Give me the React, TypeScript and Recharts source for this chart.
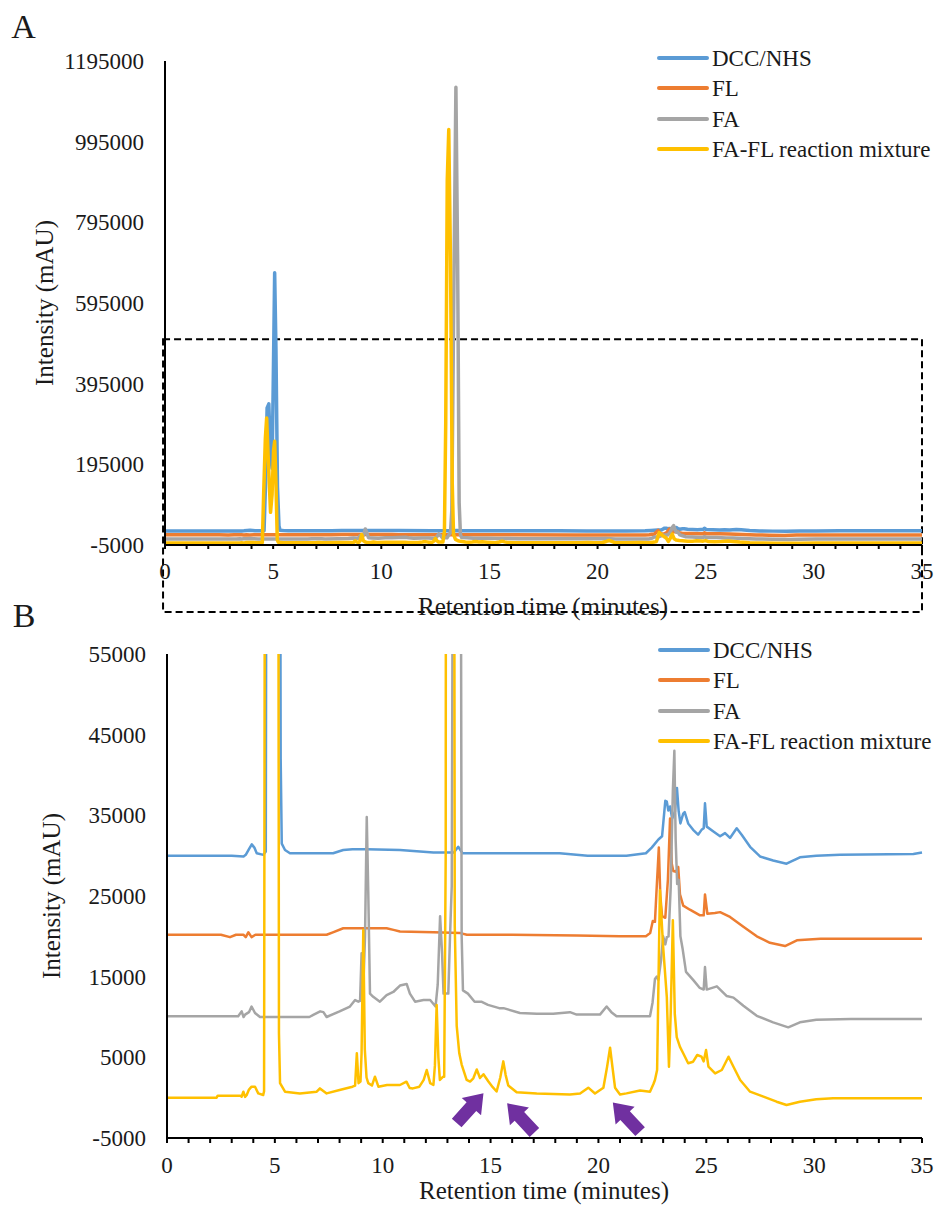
import React from 'react';
import { LineChart, Line, XAxis, YAxis, ReferenceArea, ReferenceDot } from 'recharts';

const FONT = "'Liberation Serif', 'Times New Roman', Tinos, 'DejaVu Serif', serif";

const seriesNames = ['DCC/NHS', 'FL', 'FA', 'FA-FL reaction mixture'];
const seriesColors = ['#5B9BD5', '#ED7D31', '#A5A5A5', '#FFC000'];

// retention time (min), intensity (mAU)
const dccNhs: [number, number][] = [
  [0, 30000], [1.5, 30000], [3.0, 30000], [3.55, 29900], [3.65, 30100], [3.8, 30800], [3.93, 31400],
  [4.05, 31000], [4.16, 30300], [4.47, 30100], [4.58, 30500], [4.65, 150000], [4.72, 335000],
  [4.8, 345000], [4.87, 230000], [4.95, 185000], [5.0, 380000], [5.07, 670000], [5.13, 480000],
  [5.2, 140000], [5.27, 42000], [5.32, 31500], [5.47, 30700], [5.7, 30300], [7.7, 30300],
  [8.17, 30700], [8.6, 30800], [9.26, 30800], [10.8, 30700], [12.35, 30400], [13.3, 30400],
  [13.5, 31100], [13.7, 30300], [15.4, 30300], [18.2, 30300], [19.5, 30000], [21.3, 30000],
  [22.2, 30300], [22.47, 31000], [22.78, 32000], [22.95, 32400], [23.1, 36800], [23.17, 36700],
  [23.24, 35600], [23.32, 36100], [23.42, 34600], [23.55, 35500], [23.64, 38400], [23.72, 35500],
  [23.8, 34000], [23.93, 35200], [24.0, 35400], [24.16, 34000], [24.39, 33200], [24.62, 32600],
  [24.78, 33200], [24.88, 33400], [24.94, 36500], [25.02, 33600], [25.33, 33000], [25.64, 32400],
  [25.87, 32800], [26.1, 32200], [26.41, 33400], [26.64, 32600], [27.03, 31100], [27.49, 29900],
  [28.1, 29400], [28.72, 29000], [29.34, 29800], [30.1, 30000], [31.2, 30100], [34.6, 30200],
  [35, 30400],
];

const fl: [number, number][] = [
  [0, 20200], [2.5, 20200], [2.92, 19900], [3.2, 20200], [3.54, 20200], [3.65, 19900], [3.77, 20500],
  [3.92, 19900], [4.1, 20200], [7.4, 20200], [7.69, 20500], [8.17, 21000], [8.95, 21000],
  [9.56, 21000], [10.18, 21000], [10.5, 20800], [10.8, 20600], [12.35, 20500], [13.6, 20400],
  [13.9, 20200], [16, 20200], [19, 20100], [21, 20000], [22.2, 20000], [22.4, 20400],
  [22.52, 21900], [22.62, 21800], [22.7, 26000], [22.8, 31000], [22.87, 25000], [22.95, 22500],
  [23.1, 22300], [23.22, 27000], [23.32, 34600], [23.4, 29000], [23.47, 28100], [23.6, 28000],
  [23.7, 28600], [23.78, 25200], [23.93, 23800], [24.24, 23300], [24.71, 22600], [24.88, 22600],
  [24.94, 25200], [25.05, 22800], [25.4, 22900], [25.64, 23000], [26.1, 22400], [26.72, 21200],
  [27.34, 20000], [27.95, 19200], [28.65, 18800], [29.2, 19500], [30.3, 19700], [35, 19700],
];

const fa: [number, number][] = [
  [0, 10100], [2.5, 10100], [3.3, 10100], [3.46, 10700], [3.55, 10000], [3.62, 10300], [3.8, 10600],
  [3.92, 11300], [4.08, 10500], [4.31, 10000], [6.6, 10000], [6.78, 10250], [7.1, 10700],
  [7.25, 10600], [7.4, 10000], [8.0, 10700], [8.48, 11300], [8.72, 12100], [8.87, 11900],
  [8.95, 12000], [9.02, 17900], [9.08, 12200], [9.18, 20000], [9.26, 34800], [9.33, 25500],
  [9.41, 12900], [9.56, 12500], [9.87, 11900], [10.18, 12700], [10.49, 13100], [10.8, 13900],
  [11.11, 14100], [11.26, 12900], [11.5, 11900], [11.89, 12100], [12.2, 12100], [12.45, 11300],
  [12.55, 14000], [12.66, 22500], [12.75, 18000], [12.82, 12900], [13.04, 12900], [13.12, 20000],
  [13.2, 26200], [13.26, 80000], [13.35, 600000], [13.45, 1130000], [13.53, 700000], [13.6, 100000],
  [13.66, 20000], [13.72, 13300], [13.95, 12900], [14.26, 11900], [14.57, 11900], [14.88, 11500],
  [15.4, 11100], [15.6, 11100], [16.36, 10500], [17.14, 10400], [17.9, 10400], [18.68, 10600],
  [18.99, 10300], [20.07, 10300], [20.38, 11300], [20.6, 10600], [20.84, 10100], [22.39, 10100],
  [22.51, 11800], [22.62, 14700], [22.7, 15000], [22.78, 14600], [22.9, 17000], [23.0, 20000],
  [23.1, 19000], [23.17, 19900], [23.25, 20000], [23.35, 26000], [23.45, 38000], [23.52, 43000],
  [23.58, 32000], [23.65, 26500], [23.72, 27000], [23.8, 20000], [23.9, 18500], [24.06, 15600],
  [24.39, 14600], [24.7, 13600], [24.88, 13400], [24.94, 16200], [25.02, 13400], [25.49, 13800],
  [25.95, 12600], [26.26, 12400], [26.72, 11400], [27.34, 10150], [28.1, 9340], [28.8, 8720],
  [29.34, 9340], [30.1, 9670], [31.7, 9750], [35, 9750],
];

const faFl: [number, number][] = [
  [0, 0], [2.3, 0], [2.35, 250], [3.4, 250], [3.46, 120], [3.54, 740], [3.62, 100], [3.69, 300],
  [3.8, 1000], [3.92, 1360], [4.08, 1360], [4.23, 530], [4.46, 330], [4.5, 800], [4.56, 120000],
  [4.64, 260000], [4.7, 310000], [4.78, 200000], [4.88, 76000], [4.95, 120000], [5.02, 230000],
  [5.07, 252000], [5.13, 150000], [5.19, 8000], [5.24, 1800], [5.47, 740], [6.16, 530], [6.94, 740],
  [7.09, 1150], [7.4, 530], [8.0, 950], [8.6, 1360], [8.72, 1500], [8.8, 5500], [8.88, 1800],
  [8.97, 2000], [9.02, 5500], [9.1, 20800], [9.17, 6000], [9.25, 2500], [9.33, 1800], [9.5, 1500],
  [9.64, 2600], [9.8, 1360], [10.2, 1570], [10.8, 1570], [11.1, 1980], [11.25, 1200], [11.4, 1150],
  [11.7, 1360], [11.9, 2200], [12.04, 3430], [12.2, 1800], [12.35, 1570], [12.42, 4000],
  [12.5, 11500], [12.58, 5000], [12.65, 2190], [12.8, 2600], [12.85, 2600], [12.92, 30000],
  [12.98, 300000], [13.05, 900000], [13.12, 1025000], [13.2, 700000], [13.28, 150000],
  [13.34, 21300], [13.43, 8900], [13.55, 5500], [13.66, 4100], [13.89, 2200], [14.05, 2000],
  [14.2, 2400], [14.36, 3500], [14.51, 2440], [14.67, 2900], [14.9, 2000], [15.1, 1300],
  [15.28, 760], [15.45, 2500], [15.59, 4500], [15.7, 2800], [15.82, 1500], [16.21, 660],
  [17.14, 520], [18.68, 380], [19.15, 520], [19.53, 1240], [19.84, 520], [20.23, 1240], [20.4, 3800],
  [20.54, 6200], [20.65, 3800], [20.77, 1240], [21.0, 380], [21.3, 530], [21.93, 900], [22.39, 740],
  [22.55, 1700], [22.62, 2190], [22.72, 3430], [22.85, 25700], [23.0, 18700], [23.17, 12500],
  [23.27, 3840], [23.35, 10400], [23.45, 22000], [23.54, 10400], [23.63, 7500], [23.78, 6300],
  [23.93, 5500], [24.16, 4260], [24.39, 4460], [24.58, 5290], [24.78, 5080], [24.88, 4500],
  [24.99, 5900], [25.1, 3840], [25.41, 3010], [25.72, 3430], [26.03, 5080], [26.26, 3840],
  [26.57, 2190], [27.03, 740], [27.65, 120], [28.26, -500], [28.72, -910], [29.34, -500],
  [30.1, -200], [30.88, -80], [35, -80],
];

const xTicks = [0, 1, 2, 3, 4, 5, 6, 7, 8, 9, 10, 11, 12, 13, 14, 15, 16, 17, 18, 19, 20, 21, 22, 23,
  24, 25, 26, 27, 28, 29, 30, 31, 32, 33, 34, 35];
const yTicksA = [-5000, 195000, 395000, 595000, 795000, 995000, 1195000];
const yTicksB = [-5000, 5000, 15000, 25000, 35000, 45000, 55000];

// dashed box in panel A marking the zoomed region
const zoomBox = { x1: -0.09, x2: 35, y1: -171000, y2: 505000 };

// purple arrows in panel B
const arrowTimes = [14.05, 16.4, 21.3];
const arrowLevels = [-1300, -2500, -2400];
const arrowAngles = [-48, -133, -133];

const allSeries = [dccNhs, fl, fa, faFl].map((s) => s.map(([t, v]) => ({ t, v })));

const tickStyle = { fontSize: 23, fill: '#1a1a1a', fontFamily: FONT };

function Arrow(props: any) {
  const { cx, cy, angle } = props;
  if (cx == null || cy == null) return null;
  return (
    <polygon
      points="-20,-6.5 2,-6.5 2,-13 20,0 2,13 2,6.5 -20,6.5"
      fill="#7030A0"
      transform={`translate(${cx},${cy}) rotate(${angle})`}
    />
  );
}

function SeriesLegend({ top, left }: { top: number; left: number }) {
  return (
    <div style={{ position: 'absolute', top, left }}>
      {seriesNames.map((name, i) => (
        <div key={name} style={{ position: 'absolute', top: i * 30.3, left: 0, whiteSpace: 'nowrap' }}>
          <div style={{ position: 'absolute', left: 0, top: -2, width: 52, height: 4, borderRadius: 2, background: seriesColors[i] }} />
          <div style={{ position: 'absolute', left: 55, top: 0, transform: 'translateY(-50%)', fontSize: 23, lineHeight: 1, color: '#1a1a1a', fontFamily: FONT }}>
            {name}
          </div>
        </div>
      ))}
    </div>
  );
}

function Label({ x, y, size, text, rotate }: { x: number; y: number; size: number; text: string; rotate?: boolean }) {
  return (
    <div
      style={{
        position: 'absolute', left: x, top: y, fontSize: size, lineHeight: 1, whiteSpace: 'nowrap', color: '#1a1a1a',
        fontFamily: FONT, transform: `translate(-50%, -50%)${rotate ? ' rotate(-90deg)' : ''}`,
      }}
    >
      {text}
    </div>
  );
}

export default function App() {
  return (
    <div style={{ position: 'absolute', left: 0, top: 0, width: 939, height: 1205, background: '#fff', fontFamily: FONT }}>
      {/* Panel A */}
      <div style={{ position: 'absolute', left: 0, top: 0 }}>
        <LineChart width={939} height={625} margin={{ top: 61, right: 17, bottom: 0, left: 0 }}>
          <XAxis
            dataKey="t" type="number" domain={[0, 35]} ticks={xTicks} interval={0} height={80}
            tickFormatter={(t: number) => (t % 5 === 0 ? String(t) : '')}
            axisLine={{ stroke: '#000', strokeWidth: 2 }} tickLine={{ stroke: '#000', strokeWidth: 2 }}
            tickSize={4} tickMargin={14} tick={tickStyle}
          />
          <YAxis
            type="number" domain={[-5000, 1195000]} ticks={yTicksA} interval={0} width={165}
            axisLine={{ stroke: '#000', strokeWidth: 2 }} tickLine={false} tickSize={0} tickMargin={21} tick={tickStyle}
          />
          {allSeries.map((pts, i) => (
            <Line key={seriesNames[i]} data={pts} dataKey="v" type="linear" stroke={seriesColors[i]}
              strokeWidth={3.5} dot={false} isAnimationActive={false} strokeLinejoin="round" />
          ))}
          <ReferenceArea x1={zoomBox.x1} x2={zoomBox.x2} y1={zoomBox.y1} y2={zoomBox.y2} ifOverflow="visible"
            fill="none" fillOpacity={0} stroke="#000" strokeWidth={2} strokeDasharray="7 4" />
        </LineChart>
      </div>

      {/* Panel B */}
      <div style={{ position: 'absolute', left: 0, top: 593 }}>
        <LineChart width={939} height={612} margin={{ top: 61, right: 17, bottom: 0, left: 0 }}>
          <XAxis
            dataKey="t" type="number" domain={[0, 35]} ticks={xTicks} interval={0} height={67}
            tickFormatter={(t: number) => (t % 5 === 0 ? String(t) : '')}
            axisLine={{ stroke: '#000', strokeWidth: 2 }} tickLine={{ stroke: '#000', strokeWidth: 2 }}
            tickSize={5} tickMargin={14} tick={tickStyle}
          />
          <YAxis
            type="number" domain={[-5000, 55000]} ticks={yTicksB} interval={0} width={167} allowDataOverflow
            axisLine={{ stroke: '#000', strokeWidth: 2 }} tickLine={false} tickSize={0} tickMargin={21} tick={tickStyle}
          />
          {allSeries.map((pts, i) => (
            <Line key={seriesNames[i]} data={pts} dataKey="v" type="linear" stroke={seriesColors[i]}
              strokeWidth={2.5} dot={false} isAnimationActive={false} strokeLinejoin="round" />
          ))}
          {arrowTimes.map((t, i) => (
            <ReferenceDot key={t} x={t} y={arrowLevels[i]} r={0} ifOverflow="visible"
              shape={(p: any) => <Arrow {...p} angle={arrowAngles[i]} />} />
          ))}
        </LineChart>
      </div>

      <SeriesLegend top={58} left={657} />
      <SeriesLegend top={650} left={658} />

      <Label x={23.5} y={27} size={34} text="A" />
      <Label x={24} y={616} size={34} text="B" />
      <Label x={543} y={606} size={25} text="Retention time (minutes)" />
      <Label x={544} y={1190} size={25} text="Retention time (minutes)" />
      <Label x={44} y={303} size={25} text="Intensity (mAU)" rotate />
      <Label x={51} y={896} size={25} text="Intensity (mAU)" rotate />
    </div>
  );
}
